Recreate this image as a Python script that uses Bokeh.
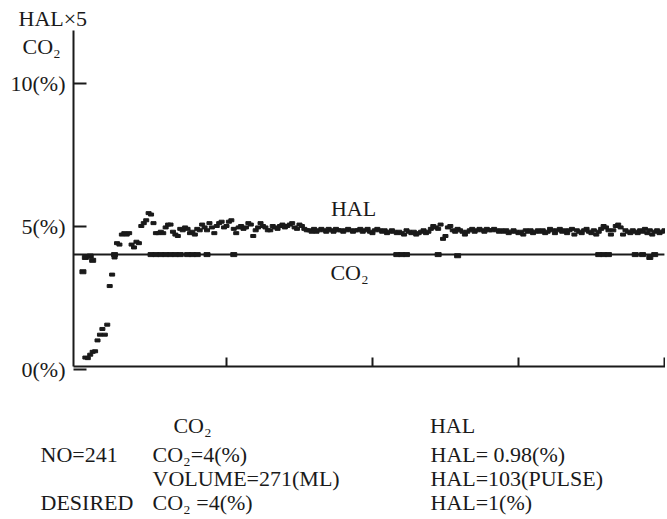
from bokeh.plotting import figure
from bokeh.models import Range1d, Label, FixedTicker
from bokeh.embed import file_html
from bokeh.resources import INLINE

# ---- data ----
hal_x = list(range(2, 241))
hal_y = [
    0.40, 0.38, 0.50, 0.60, 0.62, 1.00, 1.20, 1.40,
    1.20, 1.55, 2.90, 3.30, 3.90, 4.40, 4.35, 4.70, 4.75, 4.70,
    4.75, 4.35, 4.25, 4.45, 4.40, 5.00, 5.10, 5.20, 5.45, 5.40,
    5.10, 4.75, 4.75, 4.80, 4.75, 4.95, 5.05, 5.05, 4.80, 4.70,
    4.65, 4.90, 4.85, 4.95, 4.90, 4.75, 4.80, 4.70, 4.90, 4.85,
    5.05, 4.95, 4.85, 5.10, 4.95, 4.75, 5.00, 5.10, 5.15, 4.95,
    5.00, 5.15, 5.20, 4.90, 4.75, 4.95, 5.00, 4.90, 4.95, 5.10,
    5.05, 4.65, 4.85, 4.95, 5.10, 5.00, 4.95, 4.85, 4.85, 5.00,
    4.95, 4.90, 5.00, 5.05, 4.95, 5.00, 5.05, 5.10, 4.95, 4.90,
    5.05, 5.00, 4.90, 4.85, 4.85, 4.80, 4.90, 4.80, 4.85, 4.90,
    4.85, 4.80, 4.90, 4.85, 4.80, 4.90, 4.85, 4.85, 4.80, 4.85,
    4.90, 4.85, 4.80, 4.85, 4.85, 4.90, 4.80, 4.85, 4.90, 4.80,
    4.75, 4.85, 4.90, 4.85, 4.80, 4.85, 4.75, 4.80, 4.85, 4.80,
    4.75, 4.80, 4.75, 4.70, 4.85, 4.80, 4.75, 4.80, 4.70, 4.75,
    4.80, 4.85, 4.75, 4.80, 4.90, 5.00, 4.95, 4.90, 5.05, 4.55,
    4.65, 4.95, 5.00, 4.85, 4.80, 4.90, 4.85, 4.80, 4.70, 4.80,
    4.85, 4.90, 4.80, 4.85, 4.90, 4.85, 4.80, 4.90, 4.85, 4.85,
    4.90, 4.85, 4.80, 4.85, 4.80, 4.85, 4.75, 4.80, 4.85, 4.80,
    4.75, 4.80, 4.70, 4.85, 4.80, 4.85, 4.75, 4.80, 4.85, 4.80,
    4.85, 4.75, 4.80, 4.90, 4.85, 4.75, 4.85, 4.90, 4.80, 4.85,
    4.75, 4.85, 4.90, 4.70, 4.85, 4.80, 4.75, 4.85, 4.90, 4.80,
    4.75, 4.85, 4.70, 4.80, 4.90, 5.00, 4.95, 4.85, 4.70, 4.85,
    5.00, 5.05, 4.95, 4.70, 4.85, 4.80, 4.75, 4.85, 4.80, 4.75,
    4.85, 4.80, 4.90, 4.75, 4.85, 4.70, 4.80, 4.85, 4.75, 4.80, 4.85,
]
co2_x = [1, 2, 4, 5, 14, 29, 31, 33, 35, 37, 39, 41, 44, 46, 48, 52, 63,
         130, 132, 134, 147, 155, 213, 215, 217, 228, 231, 234, 236]
co2_y = [3.40, 3.90, 3.95, 3.80, 4.00, 4.00, 4.00, 4.00, 4.00, 4.00, 4.00, 4.00,
         4.00, 4.00, 4.00, 4.00, 4.00, 4.00, 4.00, 4.00, 4.00, 3.96, 4.00, 4.00,
         4.00, 4.00, 4.00, 3.90, 4.00]
co2_desired = 4
y_ticks = [0, 5, 10]
y_tick_labels = {0: "0(%)", 5: "5(%)", 10: "10(%)"}
x_ticks = [60, 120, 180, 240]

FONT = "Liberation Serif"
INK = "#1a1a1a"
FS = "22px"

W, H = 665, 517
PX_X = 2.433   # pixels per sample
PX_Y = 28.6    # pixels per percent
X0_PX = 80.0   # page x of sample 0
Y0_PX = 368.5  # page y of 0 %

def px2x(px):
    return (px - X0_PX) / PX_X

def py2y(py):
    return (Y0_PX - py) / PX_Y

p = figure(width=W, height=H, output_backend="svg", toolbar_location=None,
           x_range=Range1d(px2x(0), px2x(W)), y_range=Range1d(py2y(H), py2y(0)),
           min_border=0, min_border_left=0, min_border_right=0,
           min_border_top=0, min_border_bottom=0)
p.outline_line_color = None
p.xgrid.visible = False
p.ygrid.visible = False
p.background_fill_color = "white"
p.border_fill_color = "white"

x_axis_at = px2x(73)
y_axis_at = py2y(366)
x_end = px2x(667)
y_top = py2y(30)

# axes (library axes, fixed inside the canvas)
ya = p.yaxis[0]
ya.fixed_location = x_axis_at
ya.bounds = (y_axis_at, y_top)
ya.ticker = FixedTicker(ticks=y_ticks)
ya.major_label_overrides = y_tick_labels
ya.major_tick_in = 13
ya.major_tick_out = 0
ya.minor_tick_in = 0
ya.minor_tick_out = 0
ya.axis_line_width = 2
ya.major_tick_line_width = 2
ya.axis_line_color = INK
ya.major_tick_line_color = INK
ya.major_label_text_font = FONT
ya.major_label_text_font_size = FS
ya.major_label_text_color = INK
ya.major_label_standoff = 8

xa = p.xaxis[0]
xa.fixed_location = y_axis_at
xa.bounds = (x_axis_at, x_end)
xa.ticker = FixedTicker(ticks=x_ticks)
xa.major_label_overrides = {t: "" for t in x_ticks}
xa.major_tick_in = 9
xa.major_tick_out = 0
xa.minor_tick_in = 0
xa.minor_tick_out = 0
xa.axis_line_width = 2
xa.major_tick_line_width = 2
xa.axis_line_color = INK
xa.major_tick_line_color = INK

# CO2 desired level line
p.line([x_axis_at, hal_x[-1]], [co2_desired, co2_desired], line_color=INK, line_width=2)

# data marks
p.rect(co2_x, co2_y, width=6, height=4, width_units="screen", height_units="screen",
       color=INK)
p.rect(hal_x, hal_y, width=5, height=3, width_units="screen", height_units="screen",
       color=INK)

def lab(txt, px, py, align="left"):
    p.add_layout(Label(x=px2x(px), y=py2y(py), text=txt, text_font=FONT,
                       text_font_size=FS, text_color=INK, text_align=align,
                       text_baseline="middle"))

lab("HAL×5", 18, 18)
lab("CO₂", 22, 46)
lab("HAL", 353, 208, align="center")
lab("CO₂", 349, 272, align="center")

lab("CO₂", 192, 425, align="center")
lab("HAL", 452, 425, align="center")
lab("NO=241", 40, 454)
lab("CO₂=4(%)", 152, 454)
lab("HAL= 0.98(%)", 430, 454)
lab("VOLUME=271(ML)", 152, 478)
lab("HAL=103(PULSE)", 430, 478)
lab("DESIRED", 40, 502)
lab("CO₂ =4(%)", 152, 502)
lab("HAL=1(%)", 430, 502)

open("out.html", "w").write(file_html(p, INLINE))
